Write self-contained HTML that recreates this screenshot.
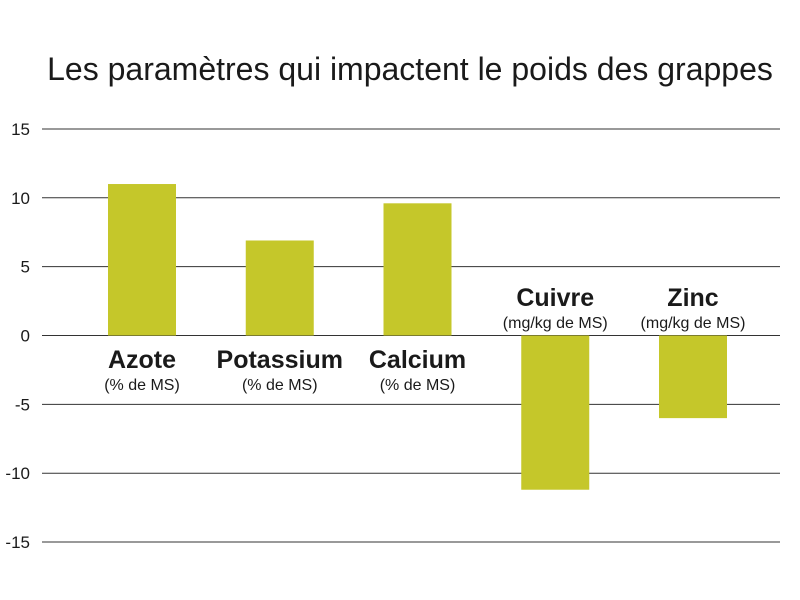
<!DOCTYPE html>
<html><head><meta charset="utf-8"><style>
html,body{margin:0;padding:0;background:#fff;}
svg{display:block;font-family:"Liberation Sans Narrow","Liberation Sans",sans-serif;}
</style></head><body>
<svg id="chart" width="800" height="600">
<text x="410" y="80" text-anchor="middle" font-size="32" fill="#1a1a1a">Les paramètres qui impactent le poids des grappes</text>
<g id="grid"></g><g id="bars"></g><g id="labels"></g>
</svg>
<script>
const categories=["Azote","Potassium","Calcium","Cuivre","Zinc"];
const units=["(% de MS)","(% de MS)","(% de MS)","(mg/kg de MS)","(mg/kg de MS)"];
const values=[11,6.9,9.6,-11.2,-6.0];
const ticks=[15,10,5,0,-5,-10,-15];
const NS="http://www.w3.org/2000/svg";
function y(v){return 335.5-v*13.77;}
function xc(i){return 142+i*137.75;}
const bw=68;
const grid=document.getElementById('grid'),bars=document.getElementById('bars'),labels=document.getElementById('labels');
function mk(tag,attrs,parent){const e=document.createElementNS(NS,tag);for(const k in attrs)e.setAttribute(k,attrs[k]);parent.appendChild(e);return e;}
ticks.forEach(t=>{
  const l=mk('line',{x1:42,x2:780,y1:y(t),y2:y(t),stroke:'#333','stroke-width':1},grid);
  
  
  const tx=mk('text',{x:30,y:y(t)+6,'text-anchor':'end','font-size':17,fill:'#1a1a1a'},grid);
  tx.textContent=t;
  
  
});
values.forEach((v,i)=>{
  const top=Math.min(y(v),y(0)),h=Math.abs(y(v)-y(0));
  const r=mk('rect',{x:xc(i)-bw/2,y:top,width:bw,height:h,fill:'#c5c72a'},bars);
  
  
  const base=v>=0?368:306;
  const t1=mk('text',{x:xc(i),y:base,'text-anchor':'middle','font-size':25,'font-weight':'bold',fill:'#1a1a1a'},labels);
  t1.textContent=categories[i];
  
  
  const t2=mk('text',{x:xc(i),y:base+22,'text-anchor':'middle','font-size':16,fill:'#1a1a1a'},labels);
  t2.textContent=units[i];
  
  
});
</script>
</body></html>
